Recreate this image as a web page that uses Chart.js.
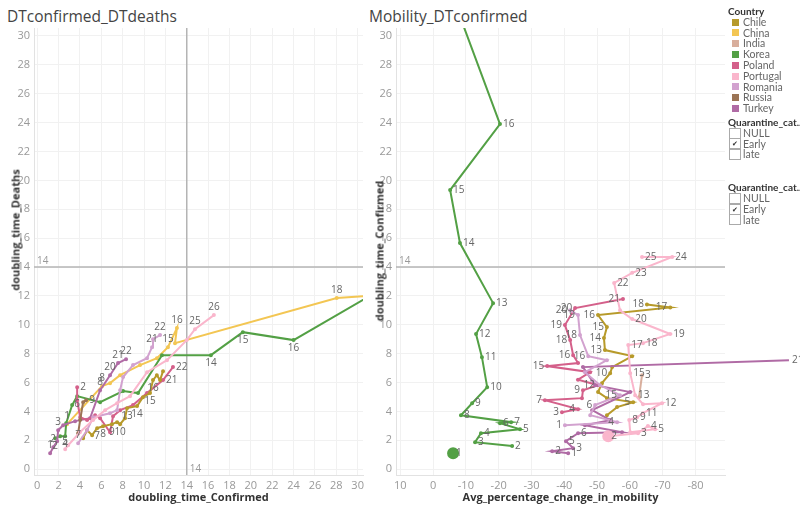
<!DOCTYPE html>
<html>
<head>
<meta charset="utf-8">
<script src="https://cdn.jsdelivr.net/npm/chart.js@4.4.0/dist/chart.umd.min.js"></script>
<style>
  body { margin: 0; width: 800px; height: 511px; overflow: hidden; background: #fff; position: relative;
         font-family: 'Open Sans', sans-serif; }
  canvas { position: absolute; top: 0; }
  .title { position: absolute; top: 5px; font-size: 15.5px; color: #444; }
  .ytitle { position: absolute; font-size: 11px; font-weight: bold; color: #333; white-space: nowrap;
            transform: translate(-50%, -50%) rotate(-90deg); }
  #legend { position: absolute; left: 728px; top: 6px; width: 72px; overflow: hidden; font-family: Lato, sans-serif;
            font-size: 10.5px; color: #666; z-index: 2; }
  #legend .row { height: 10.8px; line-height: 10.8px; display: flex; align-items: center; white-space: nowrap; }
  #legend .head { font-weight: bold; color: #333; font-size: 10px; }
  #legend .sw { width: 7px; height: 7px; margin: 0 4px 0 4px; }
  #legend .box { width: 10px; height: 9px; border: 1px solid #aaa; margin: 0 2px 0 1px; font-size: 7px;
                 line-height: 9px; text-align: center; color: #333; }
</style>
</head>
<body>
<div class="title" style="left:7px">DTconfirmed_DTdeaths</div>
<div class="title" style="left:369px">Mobility_DTconfirmed</div>
<canvas id="dtChart" width="370" height="511" style="left:0"></canvas>
<canvas id="mobChart" width="438" height="511" style="left:362px"></canvas>
<div class="ytitle" style="left:15px; top:230px">doubling_time_Deaths</div>
<div class="ytitle" style="left:379px; top:251px">doubling_time_Confirmed</div>
<div id="legend"></div>

<script>
/* ---- data: [x, y, day label] ---- */
const countries = ['Chile', 'China', 'India', 'Korea', 'Poland', 'Portugal', 'Romania', 'Russia', 'Turkey'];
const quarantineCats = ['NULL', 'Early', 'late'];

const xTicksDT = [0, 2, 4, 6, 8, 10, 12, 14, 16, 18, 20, 22, 24, 26, 28, 30];
const yTicks = [0, 2, 4, 6, 8, 10, 12, 14, 16, 18, 20, 22, 24, 26, 28, 30];
const xTicksMob = [10, 0, -10, -20, -30, -40, -50, -60, -70, -80];

// doubling_time_Confirmed vs doubling_time_Deaths
const koreaDT = [[1.68, 2.15, '2'], [2.15, 2.29, ''], [2.62, 2.29, '4'], [2.71, 3.19, ''], [3.27, 4.44, ''],
  [3.74, 5.06, '6'], [5.89, 4.64, ''], [8.04, 5.41, ''], [9.44, 5.27, ''], [11.68, 7.9, ''],
  [16.26, 7.9, '14'], [19.25, 9.49, '15'], [24.0, 8.94, '16'], [33.0, 12.8, '']];
const chinaDT = [[2.8, 3.12, '1'], [6.07, 5.75, '8'], [6.82, 5.96, ''], [7.76, 6.51, ''], [9.63, 7.21, ''],
  [11.21, 7.69, ''], [12.24, 8.45, '15'], [13.08, 9.77, '16'], [12.9, 8.73, ''], [28.04, 11.85, '18'],
  [32.0, 12.05, '']];
const portugalDT = [[2.62, 1.39, '5'], [2.9, 1.66, ''], [4.0, 2.56, ''], [5.23, 3.4, ''], [6.36, 4.09, ''],
  [7.48, 4.57, ''], [8.69, 5.06, ''], [10.28, 6.72, ''], [12.15, 7.55, ''], [14.0, 8.94, ''],
  [14.77, 9.7, '25'], [16.54, 10.67, '26']];
const romaniaDT = [[3.83, 1.8, '7'], [4.67, 2.7, ''], [5.23, 3.6, ''], [6.82, 3.88, ''], [7.48, 4.09, ''],
  [7.76, 5.47, ''], [8.04, 6.38, ''], [8.97, 7.21, ''], [10.28, 7.69, ''], [10.75, 8.45, '21'],
  [10.84, 9.0, ''], [11.5, 9.29, '22']];
const turkeyDT = [[1.21, 1.11, '1'], [1.5, 1.52, '2'], [1.87, 1.94, ''], [1.96, 2.7, '3'], [2.43, 3.05, ''],
  [3.55, 3.33, ''], [4.95, 3.53, ''], [5.89, 5.47, '8'], [6.82, 6.51, '20'], [7.57, 7.35, '21'],
  [8.32, 7.62, '22']];
const polandDT = [[3.74, 5.68, '2'], [3.74, 4.78, ''], [4.02, 3.6, ''], [4.67, 3.4, ''], [5.42, 3.74, ''],
  [5.89, 3.53, ''], [6.82, 2.56, ''], [7.1, 3.67, ''], [7.76, 4.09, ''], [8.97, 4.44, ''],
  [10.28, 5.27, ''], [11.78, 6.17, '21'], [12.71, 7.07, '22']];
const chileDT = [[4.3, 2.15, ''], [4.67, 2.7, ''], [5.14, 2.36, ''], [5.61, 2.84, '7'], [6.17, 2.98, '8'],
  [7.0, 3.12, '9'], [7.48, 3.26, ''], [7.76, 3.12, '10'], [8.22, 3.53, ''], [8.41, 4.23, '13'],
  [9.35, 4.37, '14'], [9.9, 4.99, ''], [10.56, 5.27, '15'], [10.84, 6.17, '16'], [11.2, 6.51, ''],
  [11.5, 6.17, ''], [11.78, 6.79, '']];
const russiaDT = [[3.83, 2.49, ''], [4.02, 3.4, ''], [4.3, 4.64, ''], [4.58, 4.78, '9']];

// Avg_percentage_change_in_mobility vs doubling_time_Confirmed
const koreaMob = [[-6.1, 1.11, '1'], [-24.1, 1.6, '2'], [-12.8, 1.87, '3'], [-14.6, 2.49, '4'],
  [-26.5, 2.77, '5'], [-20.4, 3.19, '6'], [-23.8, 3.26, '7'], [-8.5, 3.74, '8'], [-11.9, 4.57, '9'],
  [-16.5, 5.68, '10'], [-14.9, 7.76, '11'], [-13.1, 9.36, '12'], [-18.3, 11.5, '13'], [-8.2, 15.66, '14'],
  [-5.2, 19.33, '15'], [-20.4, 23.9, '16'], [-5.5, 33.0, '']];
const portugalMob = [[-53.4, 2.29, '2'], [-62.5, 2.49, '3'], [-65.5, 3.0, '4'], [-67.7, 2.77, '5'],
  [-60.1, 2.56, ''], [-59.8, 3.4, '8'], [-62.2, 3.6, '9'], [-64.0, 3.88, '11'], [-69.8, 4.57, '12'],
  [-64.0, 4.5, ''], [-61.6, 5.13, '13'], [-60.1, 6.65, '15'], [-59.5, 8.6, '17'], [-64.0, 8.73, '18'],
  [-72.3, 9.36, '19'], [-60.7, 10.4, '20'], [-57.0, 11.0, ''], [-55.2, 12.9, '22'], [-60.7, 13.6, '23'],
  [-72.9, 14.7, '24'], [-63.7, 14.7, '25']];
const polandMob = [[-39.3, 3.95, '3'], [-44.2, 4.16, '4'], [-34.1, 4.78, '7'], [-45.4, 4.92, ''],
  [-45.7, 5.47, '9'], [-50.3, 5.82, '12'], [-44.2, 6.2, ''], [-47.9, 6.72, ''], [-34.8, 7.14, '15'],
  [-44.2, 7.35, ''], [-42.7, 7.9, '16'], [-41.8, 8.94, '18'], [-40.2, 9.98, '19'], [-43.3, 11.16, '20'],
  [-57.9, 11.78, '21']];
const romaniaMob = [[-40.2, 3.05, '1'], [-56.1, 3.26, '4'], [-47.9, 3.74, ''], [-49.4, 4.44, '6'],
  [-57.0, 5.13, '15'], [-50.9, 5.82, ''], [-46.3, 6.72, ''], [-53.0, 7.55, ''], [-47.3, 7.83, '16'],
  [-44.8, 9.29, '18'], [-44.2, 10.67, '19'], [-41.8, 11.0, '20']];
const turkeyMob = [[-41.2, 1.11, '1'], [-36.3, 1.25, '2'], [-42.7, 1.46, '3'], [-40.5, 1.94, '5'],
  [-44.2, 2.49, '6'], [-57.6, 2.56, ''], [-46.3, 3.05, ''], [-54.0, 3.4, ''], [-48.5, 4.09, ''],
  [-60.1, 5.34, ''], [-49.4, 5.82, ''], [-45.7, 7.07, ''], [-108.5, 7.55, '21']];
const chileMob = [[-53.0, 3.74, ''], [-56.1, 4.3, ''], [-61.0, 4.64, '5'], [-53.0, 4.92, ''],
  [-50.3, 5.34, ''], [-51.5, 5.96, ''], [-54.0, 6.65, '10'], [-54.6, 7.07, ''], [-60.7, 7.83, ''],
  [-52.4, 8.25, '13'], [-52.1, 9.08, '14'], [-53.0, 9.84, '15'], [-50.3, 10.67, '16'],
  [-72.3, 11.2, '17'], [-65.2, 11.4, '18']];
const indiaMob = [[-62.8, 4.99, ''], [-63.7, 6.51, '3']];

const colors = {
  Chile: '#b79a2a', China: '#f3c653', India: '#d8ae9c', Korea: '#53a045', Poland: '#d4608a',
  Portugal: '#fab6cc', Romania: '#d2a2cf', Russia: '#9b7455', Turkey: '#b06ba5'
};

/* ---- plugins ---- */
const pointLabels = {
  id: 'pointLabels',
  afterDatasetsDraw(chart) {
    const ctx = chart.ctx;
    ctx.save();
    ctx.font = '10px "Open Sans", sans-serif';
    ctx.fillStyle = '#666';
    chart.data.datasets.forEach((ds, i) => {
      const meta = chart.getDatasetMeta(i);
      meta.data.forEach((pt, j) => {
        const lbl = ds.data[j].lbl;
        if (!lbl) return;
        const pos = ds.labelPos || 'right';
        if (pos === 'right') { ctx.textAlign = 'left'; ctx.textBaseline = 'middle'; ctx.fillText(lbl, pt.x + 3, pt.y); }
        else if (pos === 'left') { ctx.textAlign = 'right'; ctx.textBaseline = 'middle'; ctx.fillText(lbl, pt.x - 3, pt.y); }
        else if (pos === 'above') { ctx.textAlign = 'center'; ctx.textBaseline = 'bottom'; ctx.fillText(lbl, pt.x, pt.y - 3); }
        else { ctx.textAlign = 'center'; ctx.textBaseline = 'top'; ctx.fillText(lbl, pt.x, pt.y + 3); }
      });
    });
    ctx.restore();
  }
};

const refLines = {
  id: 'refLines',
  beforeDatasetsDraw(chart, args, opts) {
    const { ctx, chartArea: a, scales } = chart;
    ctx.save();
    ctx.strokeStyle = '#b4b4b4';
    ctx.lineWidth = 1.5;
    ctx.font = '10px "Open Sans", sans-serif';
    ctx.fillStyle = '#999';
    if (opts.y != null) {
      const py = scales.y.getPixelForValue(opts.y);
      ctx.beginPath(); ctx.moveTo(a.left, py); ctx.lineTo(a.right, py); ctx.stroke();
      ctx.textAlign = 'left'; ctx.textBaseline = 'bottom';
      ctx.fillText(String(opts.y), a.left + 3, py - 1);
    }
    if (opts.x != null) {
      const px = scales.x.getPixelForValue(opts.x);
      ctx.beginPath(); ctx.moveTo(px, a.top); ctx.lineTo(px, a.bottom); ctx.stroke();
      ctx.textAlign = 'left'; ctx.textBaseline = 'bottom';
      ctx.fillText(String(opts.x), px + 3, a.bottom - 1);
    }
    ctx.restore();
  }
};

function series(rows, country, extra) {
  return Object.assign({
    label: country,
    data: rows.map(r => ({ x: r[0], y: r[1], lbl: r[2] })),
    borderColor: colors[country],
    backgroundColor: colors[country],
    borderWidth: 2,
    pointRadius: 1,
    pointHoverRadius: 1,
    showLine: true,
    tension: 0
  }, extra || {});
}

const gridStyle = { color: '#f1f1f1', drawTicks: false };
const tickStyle = { color: '#999', font: { size: 11 }, maxRotation: 0, autoSkip: false };
const axisTitle = { display: true, color: '#333', font: { size: 11, weight: 'bold' } };

function axes(xTicks, xMin, xMax, xReverse, xTitle) {
  return {
    x: {
      type: 'linear', min: xMin, max: xMax, reverse: xReverse,
      afterBuildTicks: s => { s.ticks = xTicks.map(v => ({ value: v })); },
      afterFit: s => { s.height = 36; },
      grid: gridStyle, border: { color: '#e2e2e2' },
      ticks: Object.assign({ padding: 4 }, tickStyle),
      title: Object.assign({ text: xTitle, padding: { top: 0, bottom: 7 } }, axisTitle)
    },
    y: {
      type: 'linear', min: -0.4, max: 30.55,
      afterBuildTicks: s => { s.ticks = yTicks.map(v => ({ value: v })); },
      afterFit: s => { s.width = 34; },
      grid: gridStyle, border: { color: '#e2e2e2' },
      ticks: Object.assign({ padding: 4 }, tickStyle)
    }
  };
}

Chart.defaults.font.family = "'Open Sans', sans-serif";

new Chart(document.getElementById('dtChart'), {
  type: 'scatter',
  data: {
    datasets: [
      series(portugalDT, 'Portugal', { labelPos: 'above' }),
      series(romaniaDT, 'Romania', { labelPos: 'above' }),
      series(russiaDT, 'Russia', { labelPos: 'right' }),
      series(chileDT, 'Chile', { labelPos: 'below' }),
      series(polandDT, 'Poland', { labelPos: 'right' }),
      series(turkeyDT, 'Turkey', { labelPos: 'above' }),
      series(koreaDT, 'Korea', { labelPos: 'below' }),
      series(chinaDT, 'China', { labelPos: 'above' })
    ]
  },
  options: {
    responsive: false, animation: false, events: [],
    layout: { padding: { top: 28, right: 7, left: 0, bottom: 0 } },
    plugins: { legend: { display: false }, tooltip: { enabled: false }, refLines: { x: 14, y: 14 } },
    scales: axes(xTicksDT, -0.3, 30.5, false, 'doubling_time_Confirmed')
  },
  plugins: [refLines, pointLabels]
});

new Chart(document.getElementById('mobChart'), {
  type: 'scatter',
  data: {
    datasets: [
      series(portugalMob, 'Portugal', { labelPos: 'right', pointRadius: c => c.dataIndex === 0 ? 5 : 1 }),
      series(indiaMob, 'India', { labelPos: 'right' }),
      series(romaniaMob, 'Romania', { labelPos: 'left' }),
      series(turkeyMob, 'Turkey', { labelPos: 'right', clip: false }),
      series(chileMob, 'Chile', { labelPos: 'left' }),
      series(polandMob, 'Poland', { labelPos: 'left' }),
      series(koreaMob, 'Korea', {
        labelPos: 'right',
        pointRadius: c => c.dataIndex === 0 ? 5 : 1,
        segment: { borderColor: c => c.p0DataIndex === 0 ? 'rgba(0,0,0,0)' : undefined }
      })
    ]
  },
  options: {
    responsive: false, animation: false, events: [],
    layout: { padding: { top: 28, right: 75, left: 0, bottom: 0 } },
    plugins: { legend: { display: false }, tooltip: { enabled: false }, refLines: { y: 14 } },
    scales: axes(xTicksMob, -89, 11.3, true, 'Avg_percentage_change_in_mobility')
  },
  plugins: [refLines, pointLabels]
});

/* ---- legend / filters ---- */
const legend = document.getElementById('legend');
let html = '<div class="row head">Country</div>';
countries.forEach(c => {
  html += `<div class="row"><span class="sw" style="background:${colors[c]}"></span>${c}</div>`;
});
[0, 1].forEach(g => {
  html += `<div class="row head" style="margin-top:${g ? 22 : 3}px">Quarantine_cat..</div>`;
  quarantineCats.forEach(q => {
    html += `<div class="row"><span class="box">${q === 'Early' ? '&#10004;' : ''}</span>${q}</div>`;
  });
});
legend.innerHTML = html;
</script>
</body>
</html>
